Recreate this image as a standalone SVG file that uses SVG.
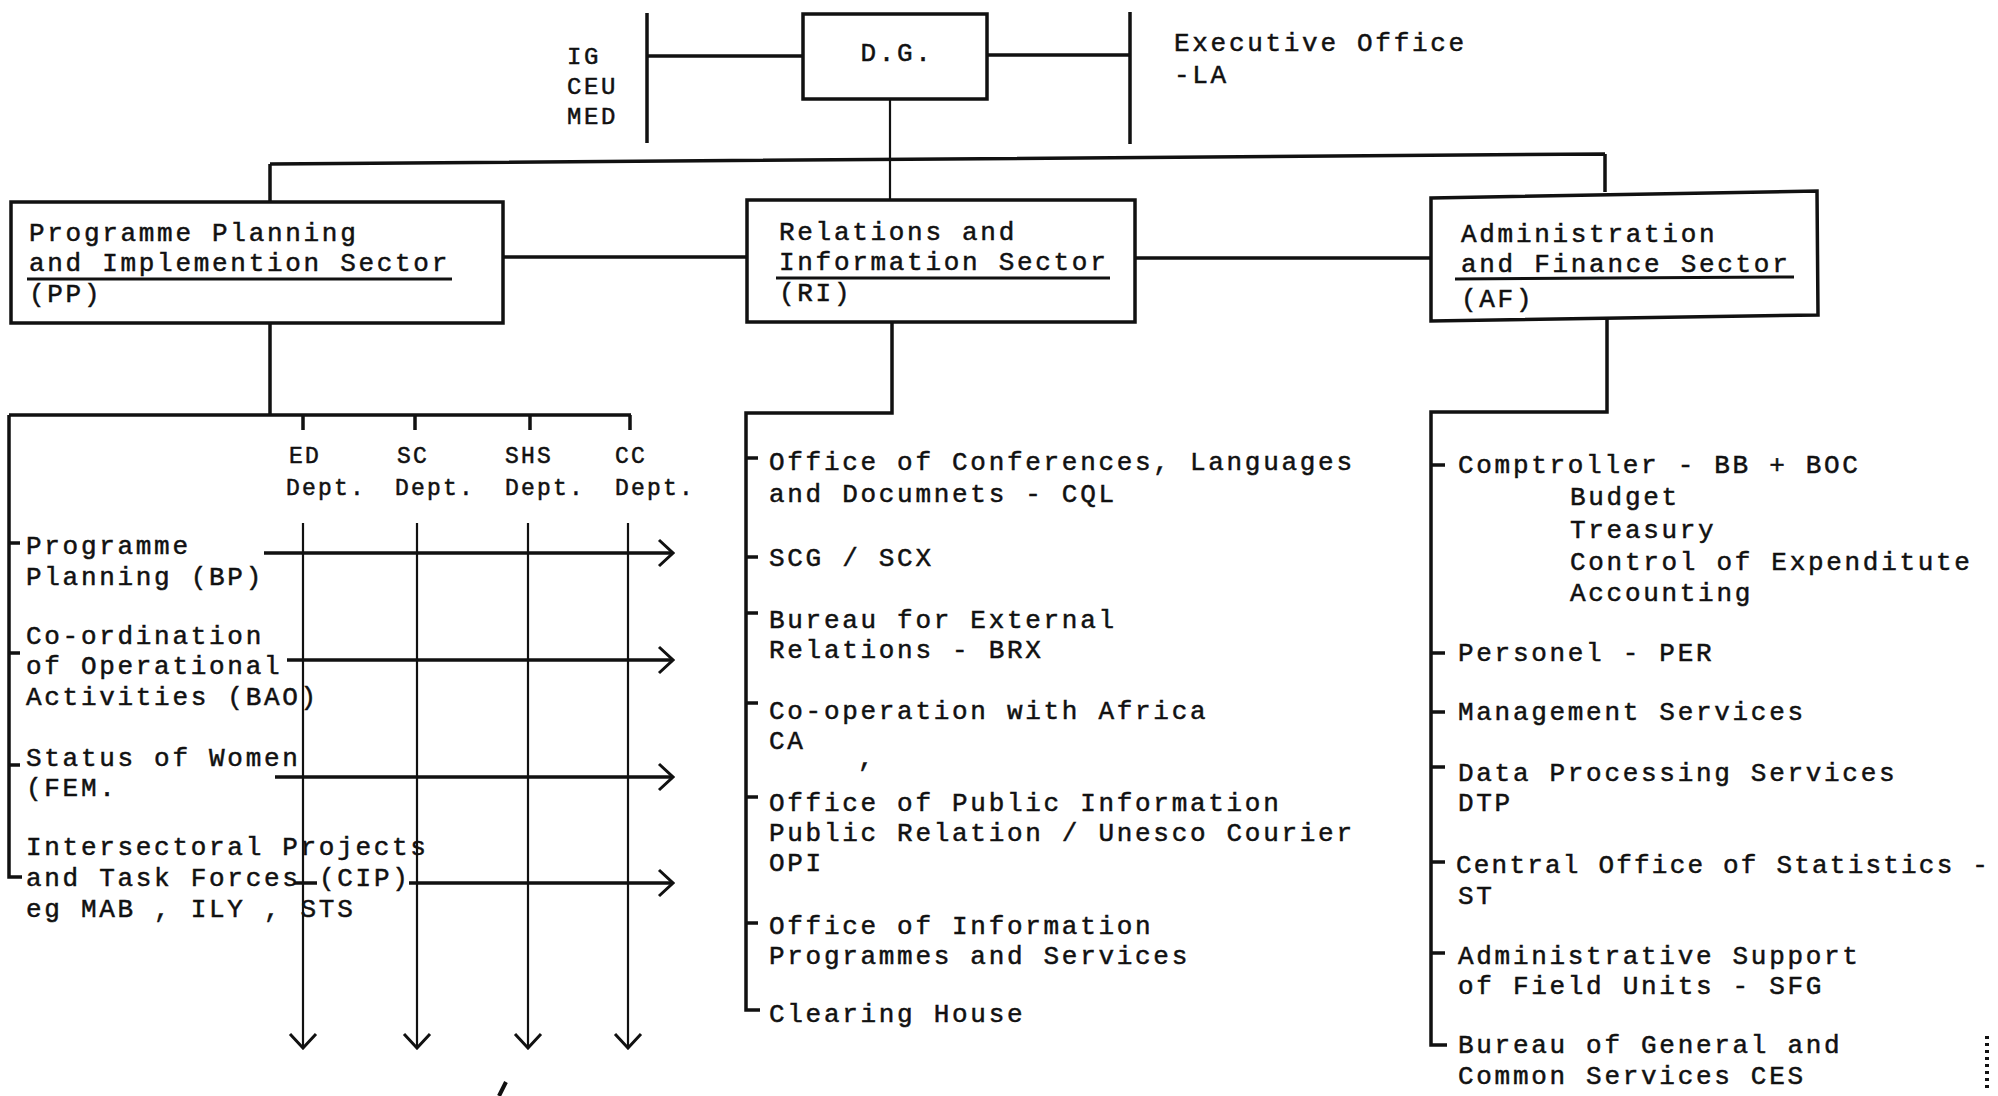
<svg xmlns="http://www.w3.org/2000/svg" width="1998" height="1096" viewBox="0 0 1998 1096">
<style>
text{font-family:"Liberation Mono","DejaVu Sans Mono",monospace;font-size:26px;letter-spacing:2.7px;fill:#111;stroke:#111;stroke-width:0.5px}
.sm{font-size:24px;letter-spacing:2.6px}
.dp{font-size:23px;letter-spacing:2.2px}
.tight{letter-spacing:2.2px}
.box{fill:none;stroke:#111;stroke-width:3.5}
.ln{fill:none;stroke:#111;stroke-width:3.5}
.th{fill:none;stroke:#111;stroke-width:2.2}
.ul{stroke:#111;stroke-width:3}
</style>
<defs>
<marker id="ah" viewBox="0 0 18 30" refX="16" refY="15" markerWidth="18" markerHeight="30" markerUnits="userSpaceOnUse" orient="auto">
<path d="M2,2 L16,15 L2,28" fill="none" stroke="#111" stroke-width="3"/>
</marker>
</defs>
<rect width="1998" height="1096" fill="#fff"/>

<g id="connectors">
<path class="ln" d="M647,13 V143 M647,56 H803"/>
<path class="ln" d="M987,55 H1130 M1130,12 V144"/>
<path class="th" d="M890,99 V201"/>
<path class="ln" d="M270,164 L1605,154 M270,164 V202 M1605,154 V192"/>
<path class="ln" d="M503,257 H747 M1135,258 H1431"/>
<path class="ln" d="M270,323 V415 M9,415 H631 M303,415 V430 M415,415 V430 M530,415 V430 M630,415 V430"/>
<path class="ln" d="M9,415 V877 H22 M9,543 H20 M9,653 H20 M9,765 H20"/>
<path class="th" marker-end="url(#ah)" d="M303,523 V1048"/>
<path class="th" marker-end="url(#ah)" d="M417,523 V1048"/>
<path class="th" marker-end="url(#ah)" d="M528,523 V1048"/>
<path class="th" marker-end="url(#ah)" d="M628,523 V1048"/>
<path class="ln" marker-end="url(#ah)" d="M264,553 H673"/>
<path class="ln" marker-end="url(#ah)" d="M287,660 H673"/>
<path class="ln" marker-end="url(#ah)" d="M275,777 H673"/>
<path class="ln" d="M294,883 H317"/>
<path class="ln" marker-end="url(#ah)" d="M409,883 H673"/>
<path class="ln" d="M892,322 V413 H746 V1010 H760 M746,458 H758 M746,557 H758 M746,613 H758 M746,703 H758 M746,797 H758 M746,923 H758"/>
<path class="ln" d="M1607,318 V412 H1431 V1045 H1447 M1431,465 H1445 M1431,653 H1445 M1431,712 H1445 M1431,767 H1445 M1431,862 H1445 M1431,953 H1445"/>
</g>

<g id="staff-left">
<text class="sm" x="567" y="64">IG</text>
<text class="sm" x="567" y="94">CEU</text>
<text class="sm" x="567" y="124">MED</text>
</g>

<g id="dg">
<rect class="box" x="803" y="14" width="184" height="85"/>
<text x="897" y="61" text-anchor="middle">D.G.</text>
</g>

<g id="executive-office">
<text x="1174" y="51">Executive Office</text>
<text x="1174" y="83">-LA</text>
</g>

<g id="sector-pp">
<rect class="box" x="11" y="202" width="492" height="121"/>
<text x="29" y="241">Programme Planning</text>
<text x="29" y="271">and Implemention Sector</text>
<line class="ul" x1="27" y1="279" x2="452" y2="279"/>
<text x="29" y="302">(PP)</text>
</g>

<g id="sector-ri">
<rect class="box" x="747" y="200" width="388" height="122"/>
<text x="779" y="240">Relations and</text>
<text x="779" y="270">Information Sector</text>
<line class="ul" x1="776" y1="278" x2="1110" y2="278"/>
<text x="779" y="301">(RI)</text>
</g>

<g id="sector-af">
<path class="box" d="M1431,198 L1817,191 L1818,315 L1431,321 Z"/>
<text x="1461" y="242">Administration</text>
<text x="1461" y="272">and Finance Sector</text>
<line class="ul" x1="1455" y1="279" x2="1794" y2="277"/>
<text x="1461" y="307">(AF)</text>
</g>

<g id="depts">
<text class="dp" x="289" y="463">ED</text>
<text class="dp" x="286" y="495">Dept.</text>
<text class="dp" x="397" y="463">SC</text>
<text class="dp" x="395" y="495">Dept.</text>
<text class="dp" x="505" y="463">SHS</text>
<text class="dp" x="505" y="495">Dept.</text>
<text class="dp" x="615" y="463">CC</text>
<text class="dp" x="615" y="495">Dept.</text>
</g>

<g id="pp-units">
<text x="26" y="554">Programme</text>
<text x="26" y="585">Planning (BP)</text>
<text x="26" y="644">Co-ordination</text>
<text x="26" y="674">of Operational</text>
<text x="26" y="705">Activities (BAO)</text>
<text x="26" y="766">Status of Women</text>
<text x="26" y="796">(FEM.</text>
<text x="26" y="855">Intersectoral Projects</text>
<text x="26" y="886">and Task Forces</text>
<text x="319" y="886">(CIP)</text>
<text x="26" y="917">eg MAB , ILY , STS</text>
</g>

<g id="ri-units">
<text x="769" y="470">Office of Conferences, Languages</text>
<text x="769" y="502">and Documnets - CQL</text>
<text x="769" y="566">SCG / SCX</text>
<text x="769" y="628">Bureau for External</text>
<text x="769" y="658">Relations - BRX</text>
<text x="769" y="719">Co-operation with Africa</text>
<text x="769" y="749">CA</text>
<text x="858" y="766">,</text>
<text x="769" y="811">Office of Public Information</text>
<text x="769" y="841">Public Relation / Unesco Courier</text>
<text x="769" y="871">OPI</text>
<text x="769" y="934">Office of Information</text>
<text x="769" y="964">Programmes and Services</text>
<text x="769" y="1022">Clearing House</text>
</g>

<g id="af-units">
<text x="1458" y="473">Comptroller - BB + BOC</text>
<text x="1570" y="505">Budget</text>
<text x="1570" y="538">Treasury</text>
<text x="1570" y="570">Control of Expenditute</text>
<text x="1570" y="601">Accounting</text>
<text x="1458" y="661">Personel - PER</text>
<text x="1458" y="720">Management Services</text>
<text x="1458" y="781">Data Processing Services</text>
<text x="1458" y="811">DTP</text>
<text class="tight" x="1456" y="873">Central Office of Statistics -</text>
<text x="1458" y="904">ST</text>
<text x="1458" y="964">Administrative Support</text>
<text x="1458" y="994">of Field Units - SFG</text>
<text x="1458" y="1053">Bureau of General and</text>
<text x="1458" y="1084">Common Services CES</text>
</g>

<g id="marks">
<path d="M1987,1036 V1088" stroke="#111" stroke-width="4" stroke-dasharray="3,4"/>
<path d="M499,1096 L506,1082" stroke="#111" stroke-width="4"/>
</g>
</svg>
